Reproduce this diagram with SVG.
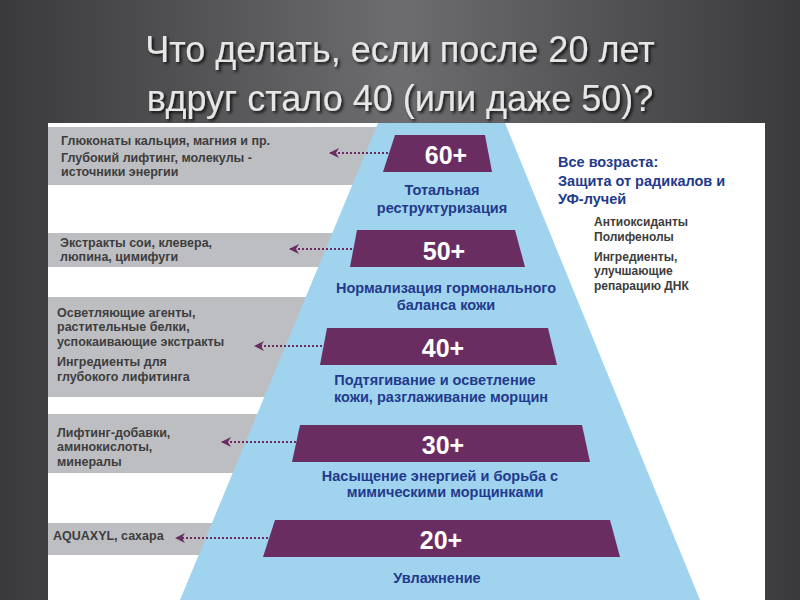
<svg xmlns="http://www.w3.org/2000/svg" width="800" height="600" viewBox="0 0 800 600">
<defs>
<linearGradient id="bg" x1="0" y1="0" x2="1" y2="0"><stop offset="0" stop-color="#3a3a3c"/><stop offset="0.5" stop-color="#6d6d70"/><stop offset="1" stop-color="#3a3a3c"/></linearGradient>
<marker id="ah" viewBox="0 0 10 10" refX="9" refY="5" markerWidth="5" markerHeight="5" orient="auto"><path d="M0,0 L10,5 L0,10 L3,5 Z" fill="#6a2d62"/></marker>
<filter id="sh"><feDropShadow dx="2" dy="2" stdDeviation="1.5" flood-color="#000" flood-opacity="0.8"/></filter>
</defs>
<style>
.t{font-family:"Liberation Sans",Arial,sans-serif;}
.title{font-size:36px;fill:#e6e6e6;text-anchor:middle;}
.g{fill:#bdbec2;}
.gt{font-size:12.5px;font-weight:bold;fill:#3d3d3d;}
.bar{fill:#6a2d62;}
.num{font-size:25px;font-weight:bold;fill:#fff;text-anchor:middle;}
.lb{font-size:14.5px;font-weight:bold;fill:#233a8c;text-anchor:middle;}
.rt{font-size:12px;font-weight:bold;fill:#3d3d3d;}
.ar{stroke:#6a2d62;stroke-width:2;stroke-dasharray:2,2;fill:none;}
</style>
<rect width="800" height="600" fill="url(#bg)"/>
<g filter="url(#sh)">
<text class="t title" x="400" y="62">Что делать, если после 20 лет</text>
<text class="t title" x="400" y="111">вдруг стало 40 (или даже 50)?</text>
</g>
<rect x="48" y="123" width="717" height="477" fill="#fff"/>
<g id="boxes">
<rect class="g" x="48" y="127" width="340" height="58"/>
<rect class="g" x="48" y="233" width="320" height="34"/>
<rect class="g" x="48" y="297" width="300" height="100"/>
<rect class="g" x="48" y="414" width="260" height="59"/>
<rect class="g" x="48" y="523" width="200" height="32"/>
</g>
<polygon id="pyramid" points="378,123 505,123 700,600 180,600" fill="#9fd3ee"/>
<g id="box1" class="t gt"><text x="61" y="145">Глюконаты кальция, магния и пр.</text><text x="61" y="162">Глубокий лифтинг, молекулы -</text><text x="61" y="176">источники энергии</text></g>
<g id="box2" class="t gt"><text x="60" y="247">Экстракты сои, клевера,</text><text x="60" y="261">люпина, цимифуги</text></g>
<g id="box3" class="t gt"><text x="57" y="317">Осветляющие агенты,</text><text x="57" y="331">растительные белки,</text><text x="57" y="346">успокаивающие экстракты</text><text x="57" y="366">Ингредиенты для</text><text x="57" y="381">глубокого лифитинга</text></g>
<g id="box4" class="t gt"><text x="57" y="437">Лифтинг-добавки,</text><text x="57" y="451">аминокислоты,</text><text x="57" y="466">минералы</text></g>
<g id="box5" class="t gt"><text x="53" y="540">AQUAXYL, сахара</text></g>
<g id="connectors">
<line class="ar" x1="392" y1="153" x2="330" y2="153" marker-end="url(#ah)"/>
<line class="ar" x1="360" y1="249" x2="290" y2="249" marker-end="url(#ah)"/>
<line class="ar" x1="330" y1="346" x2="255" y2="346" marker-end="url(#ah)"/>
<line class="ar" x1="300" y1="442" x2="222" y2="442" marker-end="url(#ah)"/>
<line class="ar" x1="272" y1="538" x2="176" y2="538" marker-end="url(#ah)"/>
</g>
<g id="l60"><polygon class="bar" points="395,135 485,135 492,172 383,172"/><text class="t num" x="446" y="164">60+</text><text class="t lb" x="442" y="195">Тотальная</text><text class="t lb" x="442" y="213">реструктуризация</text></g>
<g id="l50"><polygon class="bar" points="357,230 515,230 525,267 350,267"/><text class="t num" x="444" y="260">50+</text><text class="t lb" x="446" y="293">Нормализация гормонального</text><text class="t lb" x="446" y="310">баланса кожи</text></g>
<g id="l40"><polygon class="bar" points="327,328 548,328 557,365 320,365"/><text class="t num" x="443" y="357">40+</text><text class="t lb" x="435" y="385">Подтягивание и осветление</text><text class="t lb" x="441" y="402">кожи, разглаживание морщин</text></g>
<g id="l30"><polygon class="bar" points="300,425 582,425 590,462 292,462"/><text class="t num" x="443" y="454">30+</text><text class="t lb" x="440" y="481">Насыщение энергией и борьба с</text><text class="t lb" x="445" y="497">мимическими морщинками</text></g>
<g id="l20"><polygon class="bar" points="275,520 610,520 620,557 263,557"/><text class="t num" x="441" y="549">20+</text><text class="t lb" x="437" y="583">Увлажнение</text></g>
<g id="all" class="t"><text x="558" y="167" font-size="14.5" font-weight="bold" fill="#233a8c">Все возраста:</text><text x="558" y="186" font-size="14.5" font-weight="bold" fill="#233a8c">Защита от радикалов и</text><text x="558" y="204" font-size="14.5" font-weight="bold" fill="#233a8c">УФ-лучей</text>
<text class="rt" x="594" y="226">Антиоксиданты</text><text class="rt" x="594" y="241">Полифенолы</text><text class="rt" x="594" y="261">Ингредиенты,</text><text class="rt" x="594" y="275">улучшающие</text><text class="rt" x="594" y="290">репарацию ДНК</text></g>
</svg>
